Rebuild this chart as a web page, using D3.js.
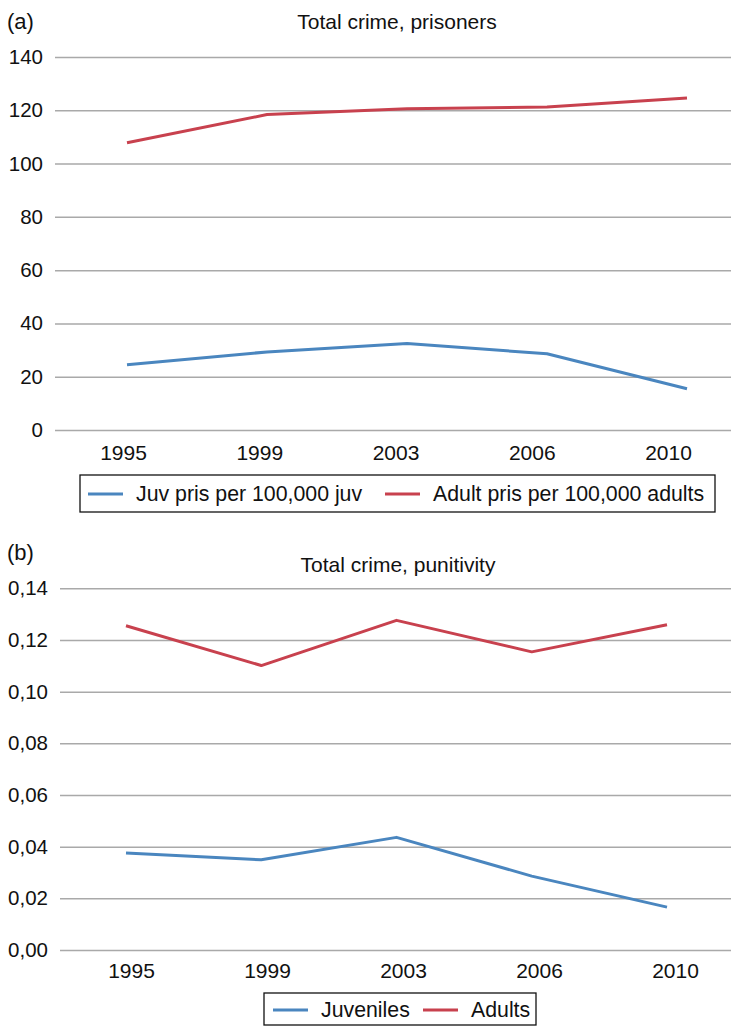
<!DOCTYPE html>
<html>
<head>
<meta charset="utf-8">
<script src="https://cdn.jsdelivr.net/npm/d3@7"></script>
<style>
  html, body { margin: 0; padding: 0; background: #fff; }
  svg { display: block; font-family: "Liberation Sans", Arial, Helvetica, sans-serif; }
</style>
</head>
<body>
<svg id="chart" width="731" height="1026"></svg>
<script>
// Survey years (category axis shared by both panels)
const years = ["1995", "1999", "2003", "2006", "2010"];

// Panel (a): prisoners per 100,000 population
const juvPrisoners = [24.5, 29.3, 32.5, 28.6, 15.5];
const adultPrisoners = [107.8, 118.4, 120.6, 121.2, 124.6];
const prisonerTicks = [0, 20, 40, 60, 80, 100, 120, 140];

// Panel (b): punitivity
const juvPunitivity = [0.0375, 0.0349, 0.0436, 0.0286, 0.0166];
const adultPunitivity = [0.1255, 0.1101, 0.1276, 0.1154, 0.1259];
const punitivityTicks = [0, 0.02, 0.04, 0.06, 0.08, 0.10, 0.12, 0.14];

const BLUE = "#4a86bf";
const RED = "#c8414e";
const GRID = "#a9a9a9";
const FONT = "'Liberation Sans', Arial, Helvetica, sans-serif";

const svg = d3.select("#chart");
const commaFmt = v => d3.format(".2f")(v).replace(".", ",");

function panel(cfg) {
  const g = svg.append("g");

  const x = d3.scalePoint().domain(years).range(cfg.xRange);
  const xLab = d3.scalePoint().domain(years).range(cfg.labelRange);
  const y = d3.scaleLinear().domain([0, cfg.max]).range(cfg.yRange);

  // panel letter and title
  g.append("text").attr("x", 7).attr("y", cfg.letterY)
    .attr("font-size", 22).attr("fill", "#111").text(cfg.letter);
  g.append("text").attr("x", cfg.titleX).attr("y", cfg.titleY)
    .attr("text-anchor", "middle").attr("font-size", 21).attr("fill", "#111")
    .text(cfg.title);

  // horizontal gridlines + y labels
  const yAxis = d3.axisLeft(y).tickValues(cfg.ticks).tickFormat(cfg.fmt)
    .tickSize(-(731 - cfg.gridX0)).tickPadding(12);
  const ya = g.append("g").attr("transform", `translate(${cfg.gridX0},0)`).call(yAxis);
  ya.select(".domain").remove();
  ya.selectAll(".tick line").attr("stroke", GRID).attr("stroke-width", 1.5);
  ya.selectAll(".tick text").attr("font-size", 20.5).attr("fill", "#111")
    .attr("font-family", FONT);

  // x labels
  const xAxis = d3.axisBottom(xLab).tickSize(0).tickPadding(0);
  const xa = g.append("g").attr("transform", `translate(0,${cfg.xLabelY})`).call(xAxis);
  xa.select(".domain").remove();
  xa.selectAll(".tick text").attr("font-size", 21).attr("fill", "#111")
    .attr("dy", "0.35em").attr("font-family", FONT);

  // series lines
  const line = d3.line().x((d, i) => x(years[i])).y(d => y(d));
  cfg.series.forEach(s => {
    g.append("path").datum(s.values)
      .attr("d", line).attr("fill", "none")
      .attr("stroke", s.color).attr("stroke-width", 3)
      .attr("stroke-linejoin", "round");
  });

  // legend
  const L = cfg.legend;
  g.append("rect").attr("x", L.x0).attr("y", L.y0)
    .attr("width", L.x1 - L.x0).attr("height", L.y1 - L.y0)
    .attr("fill", "#fff").attr("stroke", "#111").attr("stroke-width", 1.3);
  cfg.series.forEach((s, i) => {
    const lx = L.items[i];
    g.append("line").attr("x1", lx).attr("x2", lx + 35)
      .attr("y1", L.cy).attr("y2", L.cy)
      .attr("stroke", s.color).attr("stroke-width", 3);
    g.append("text").attr("x", lx + 48).attr("y", L.cy).attr("dy", "0.35em")
      .attr("font-size", 21.3).attr("fill", "#111").text(s.name);
  });
}

panel({
  letter: "(a)", letterY: 29,
  title: "Total crime, prisoners", titleX: 397, titleY: 29,
  max: 140, ticks: prisonerTicks, fmt: d3.format("d"),
  yRange: [430, 57], xRange: [127, 687], labelRange: [123, 668],
  gridX0: 55, xLabelY: 453,
  series: [
    { name: "Juv pris per 100,000 juv", values: juvPrisoners, color: BLUE },
    { name: "Adult pris per 100,000 adults", values: adultPrisoners, color: RED }
  ],
  legend: { x0: 80, y0: 475, x1: 715, y1: 512, cy: 494, items: [88, 385] }
});

panel({
  letter: "(b)", letterY: 560,
  title: "Total crime, punitivity", titleX: 398, titleY: 572,
  max: 0.14, ticks: punitivityTicks, fmt: commaFmt,
  yRange: [950, 588.3], xRange: [126, 667], labelRange: [131, 675],
  gridX0: 60, xLabelY: 971,
  series: [
    { name: "Juveniles", values: juvPunitivity, color: BLUE },
    { name: "Adults", values: adultPunitivity, color: RED }
  ],
  legend: { x0: 264, y0: 993, x1: 536, y1: 1025, cy: 1010, items: [273, 423] }
});
</script>
</body>
</html>
